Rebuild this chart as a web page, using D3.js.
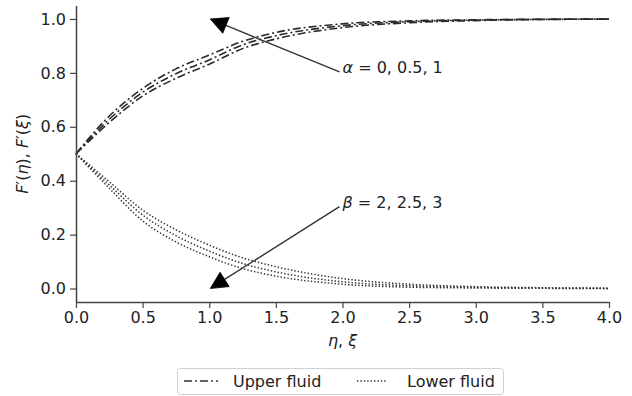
<!DOCTYPE html>
<html>
<head>
<meta charset="utf-8">
<script src="https://cdn.jsdelivr.net/npm/d3@7/dist/d3.min.js"></script>
<style>
  html, body { margin: 0; padding: 0; background: #fff; }
  svg { display: block; font-family: "DejaVu Sans", sans-serif; }
</style>
</head>
<body>
<svg id="chart" width="632" height="396"></svg>
<script>
// ---- data ----
const eta = [0, 0.25, 0.5, 0.75, 1.0, 1.25, 1.5, 2.0, 2.5, 3.0, 3.5, 4.0];
// Upper fluid F'(eta), three alpha values
const upperAlpha0  = [0.5, 0.640, 0.742, 0.815, 0.866, 0.917, 0.950, 0.982, 0.993, 0.997, 0.999, 1.000];
const upperAlpha05 = [0.5, 0.628, 0.728, 0.797, 0.848, 0.904, 0.938, 0.975, 0.990, 0.996, 0.9985, 0.9995];
const upperAlpha1  = [0.5, 0.616, 0.714, 0.780, 0.832, 0.890, 0.926, 0.968, 0.986, 0.994, 0.998, 0.9993];
// Lower fluid F'(xi), three beta values
const lowerBeta2   = [0.5, 0.396, 0.291, 0.218, 0.161, 0.114, 0.081, 0.037, 0.016, 0.007, 0.003, 0.001];
const lowerBeta25  = [0.5, 0.384, 0.273, 0.196, 0.139, 0.093, 0.062, 0.025, 0.010, 0.004, 0.0015, 0.0005];
const lowerBeta3   = [0.5, 0.372, 0.251, 0.173, 0.118, 0.074, 0.046, 0.016, 0.005, 0.002, 0.0006, 0.0002];

const xTicks = [0, 0.5, 1.0, 1.5, 2.0, 2.5, 3.0, 3.5, 4.0];
const yTicks = [0, 0.2, 0.4, 0.6, 0.8, 1.0];
const legendLabels = ["Upper fluid", "Lower fluid"];

// ---- setup ----
const svg = d3.select("#chart");
const FONT = 16;
const axisColor = "#444";

const x = d3.scaleLinear().domain([0, 4]).range([76, 609]);
const y = d3.scaleLinear().domain([-0.05, 1.05]).range([302, 5.5]);

const line = d3.line()
  .x(d => x(d[0]))
  .y(d => y(d[1]))
  .curve(d3.curveMonotoneX);

const upperSeries = [upperAlpha0, upperAlpha05, upperAlpha1];
const lowerSeries = [lowerBeta2, lowerBeta25, lowerBeta3];

const dashUpper = "8,3,2,3";
const dashLower = "1.4,2";

upperSeries.forEach(s => {
  svg.append("path")
    .datum(eta.map((e, i) => [e, s[i]]))
    .attr("d", line)
    .attr("fill", "none")
    .attr("stroke", "#2a2a2a")
    .attr("stroke-width", 1.6)
    .attr("stroke-dasharray", dashUpper);
});
lowerSeries.forEach(s => {
  svg.append("path")
    .datum(eta.map((e, i) => [e, s[i]]))
    .attr("d", line)
    .attr("fill", "none")
    .attr("stroke", "#333")
    .attr("stroke-width", 1.5)
    .attr("stroke-dasharray", dashLower);
});

// ---- axes ----
const xAxis = d3.axisBottom(x).tickValues(xTicks).tickFormat(d3.format(".1f"))
  .tickSizeInner(6).tickSizeOuter(0).tickPadding(4);
const yAxis = d3.axisLeft(y).tickValues(yTicks).tickFormat(d3.format(".1f"))
  .tickSizeInner(6).tickSizeOuter(0).tickPadding(4);

const gx = svg.append("g").attr("transform", `translate(0,${y.range()[0]})`).call(xAxis);
const gy = svg.append("g").attr("transform", `translate(${x.range()[0]},0)`).call(yAxis);
[gx, gy].forEach(g => {
  g.select(".domain").attr("stroke", axisColor).attr("stroke-width", 1.5);
  g.selectAll(".tick line").attr("stroke", axisColor).attr("stroke-width", 1.2);
  g.selectAll(".tick text").attr("fill", "#222").style("font-size", FONT + "px")
    .style("font-family", "DejaVu Sans");
});

// axis labels
const xl = svg.append("text")
  .attr("x", (x.range()[0] + x.range()[1]) / 2)
  .attr("y", 346)
  .attr("text-anchor", "middle")
  .attr("fill", "#222")
  .style("font-size", FONT + "px");
xl.append("tspan").style("font-style", "italic").text("η");
xl.append("tspan").text(", ");
xl.append("tspan").style("font-style", "italic").text("ξ");

const yl = svg.append("text")
  .attr("transform", `translate(28,${(y.range()[0] + y.range()[1]) / 2}) rotate(-90)`)
  .attr("text-anchor", "middle")
  .attr("fill", "#222")
  .style("font-size", FONT + "px");
yl.append("tspan").style("font-style", "italic").text("F");
yl.append("tspan").text("′(");
yl.append("tspan").style("font-style", "italic").text("η");
yl.append("tspan").text("), ");
yl.append("tspan").style("font-style", "italic").text("F");
yl.append("tspan").text("′(");
yl.append("tspan").style("font-style", "italic").text("ξ");
yl.append("tspan").text(")");

// ---- annotations ----
const annotations = [
  { sym: "α", rest: " = 0, 0.5, 1", text: [2.0, 0.8], tip: [1.0, 1.0] },
  { sym: "β", rest: " = 2, 2.5, 3", text: [2.0, 0.3], tip: [1.0, 0.0] }
];
annotations.forEach(a => {
  const tx = x(a.text[0]), ty = y(a.text[1]);
  const t = svg.append("text").attr("x", tx).attr("y", ty)
    .attr("fill", "#222").style("font-size", FONT + "px");
  t.append("tspan").style("font-style", "italic").text(a.sym);
  t.append("tspan").text(a.rest);

  const sx = tx - 3, sy = ty - 1;
  const px = x(a.tip[0]) + 1, py = y(a.tip[1]);
  const dx = sx - px, dy = sy - py;
  const L = Math.hypot(dx, dy);
  const ux = dx / L, uy = dy / L;
  const headLen = 17, headHalf = 8.5;
  const bx = px + ux * headLen, by = py + uy * headLen;
  svg.append("line")
    .attr("x1", sx).attr("y1", sy).attr("x2", bx).attr("y2", by)
    .attr("stroke", "#333").attr("stroke-width", 1.4);
  svg.append("polygon")
    .attr("points", [
      [px, py],
      [bx - uy * headHalf, by + ux * headHalf],
      [bx + uy * headHalf, by - ux * headHalf]
    ].map(p => p.join(",")).join(" "))
    .attr("fill", "#000").attr("stroke", "#000").attr("stroke-width", 0.8);
});

// ---- legend ----
const lg = svg.append("g");
lg.append("rect")
  .attr("x", 177.5).attr("y", 368.5).attr("width", 326).attr("height", 26)
  .attr("rx", 3).attr("fill", "#fff").attr("stroke", "#d0d0d0").attr("stroke-width", 1);
const legendItems = [
  { label: legendLabels[0], dash: dashUpper, x0: 184, x1: 218, tx: 233, w: 1.6 },
  { label: legendLabels[1], dash: dashLower, x0: 357, x1: 386, tx: 407, w: 1.5 }
];
legendItems.forEach(it => {
  lg.append("line")
    .attr("x1", it.x0).attr("x2", it.x1).attr("y1", 381).attr("y2", 381)
    .attr("stroke", "#333").attr("stroke-width", it.w).attr("stroke-dasharray", it.dash);
  lg.append("text").attr("x", it.tx).attr("y", 387)
    .attr("fill", "#222").style("font-size", FONT + "px").text(it.label);
});
</script>
</body>
</html>
